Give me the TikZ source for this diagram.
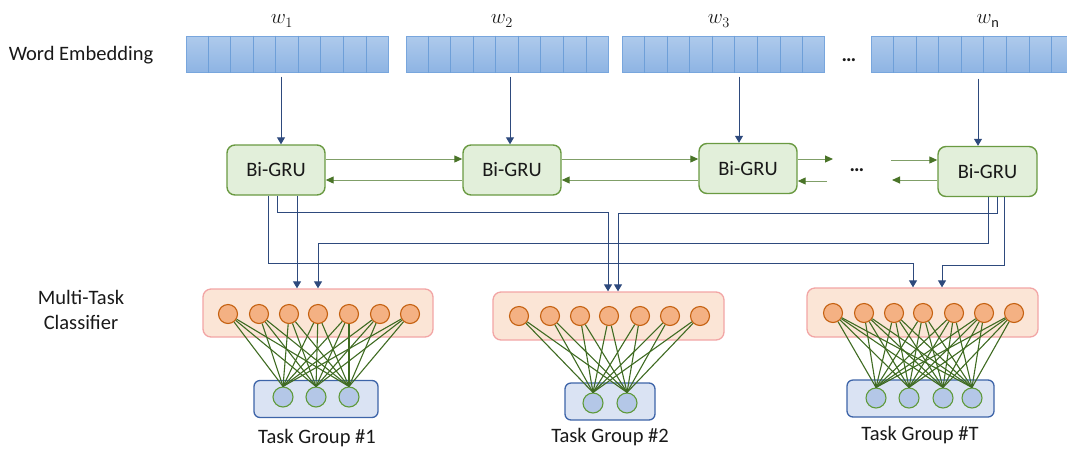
\documentclass[tikz,border=0pt]{standalone}
\usepackage{fontspec}
\setmainfont{Carlito}
\usetikzlibrary{arrows.meta,calc}
\definecolor{wordtop}{HTML}{AECAEC}
\definecolor{wordbot}{HTML}{8EB4E3}
\definecolor{wordborder}{HTML}{78A6DD}
\definecolor{cellline}{HTML}{6E9FD8}
\definecolor{gruf}{HTML}{E2EFDA}
\definecolor{grub}{HTML}{6A9A42}
\definecolor{pinkf}{HTML}{FBE5D6}
\definecolor{pinkb}{HTML}{F2A5A5}
\definecolor{orangef}{HTML}{F4B183}
\definecolor{orangeb}{HTML}{C5600F}
\definecolor{bluef}{HTML}{DAE3F3}
\definecolor{blueb}{HTML}{3D64A8}
\definecolor{bluec}{HTML}{B4C7E7}
\definecolor{greenb}{HTML}{5F9A3A}
\definecolor{linkc}{HTML}{3F6B22}
\definecolor{navy}{HTML}{2E4A7D}
\definecolor{garrl}{HTML}{809F68}
\definecolor{garrh}{HTML}{4A7428}
\newcommand\mylbl{\fontsize{20.5}{24.5}\selectfont}
\begin{document}
\begin{tikzpicture}[x=1pt,y=-1pt,
  wordbox/.style={rectangle, draw=wordborder, line width=1pt, top color=wordtop, bottom color=wordbot, minimum width=202pt, minimum height=36pt, inner sep=0pt},
  gru/.style={rectangle, rounded corners=8pt, draw=grub, fill=gruf, line width=1.4pt, minimum width=98pt, minimum height=50pt, font=\mylbl, text=black!90},
  clsbox/.style={rectangle, rounded corners=8pt, draw=pinkb, fill=pinkf, line width=1.3pt, minimum height=48pt, minimum width=231pt, inner sep=0pt},
  onode/.style={circle, draw=orangeb, fill=orangef, line width=1.1pt, minimum size=19pt, inner sep=0pt},
  taskbox/.style={rectangle, rounded corners=6pt, draw=blueb, fill=bluef, line width=1.3pt, minimum height=37pt, inner sep=0pt},
  tnode/.style={circle, draw=greenb, fill=bluec, line width=1.1pt, minimum size=20pt, inner sep=0pt},
  route/.style={draw=navy, line width=1pt, -{Triangle[width=8pt,length=7pt]}},
  garr/.style={draw=garrl, line width=1pt, -{Triangle[width=7pt,length=8pt,color=garrh,fill=garrh]}},
  link/.style={draw=linkc, line width=1.1pt},
  lbl/.style={font=\mylbl, text=black!90, inner sep=0pt}
]
\useasboundingbox (0,0) rectangle (1067,448);
\clip (0,0) rectangle (1067,448);

% left labels
\node[lbl] (lwe) at (81,55) {Word Embedding};
\node[lbl, align=center] (lmt) at (81,310) {Multi-Task\\Classifier};

% word embeddings
\node[wordbox] (w1) at (287,54) {};
\node[wordbox] (w2) at (507,54) {};
\node[wordbox] (w3) at (723.5,54) {};
\node[wordbox] (wn) at (972.5,54) {};
\foreach \w in {w1,w2,w3,wn}{
  \foreach \i in {1,...,8}{
    \draw[cellline, line width=0.8pt] ($(\w.north west)!\i/9!(\w.north east)$) -- ($(\w.south west)!\i/9!(\w.south east)$);
  }
}
\node[lbl] (lw1) at (282,21) {$w_1$};
\node[lbl] (lw2) at (502,21) {$w_2$};
\node[lbl] (lw3) at (719,21) {$w_3$};
\node[lbl] (lwn) at (988,21) {$w_{\mathrm{n}}$};
\node[lbl] (dotsw) at (849,60) {\textbf{…}};

% Bi-GRU
\node[gru] (g1) at (276,170) {Bi-GRU};
\node[gru] (g2) at (512,170) {Bi-GRU};
\node[gru] (g3) at (748,168.5) {Bi-GRU};
\node[gru, minimum width=99pt] (g4) at (987.5,171.5) {Bi-GRU};
\node[lbl] (dotsg) at (857,170) {\textbf{…}};

% word -> GRU
\draw[route] ([xshift=-6pt,yshift=-4pt]w1.south) -- ([xshift=5pt]g1.north);
\draw[route] ([xshift=3pt,yshift=-4pt]w2.south) -- ([xshift=-2pt]g2.north);
\draw[route] ([xshift=15.5pt,yshift=-4pt]w3.south) -- ([xshift=-9pt]g3.north);
\draw[route] ([xshift=5.5pt,yshift=-6pt]wn.south) -- ([xshift=-9.5pt]g4.north);

% recurrent arrows
\coordinate (o3t) at (833,159);
\coordinate (o3b) at (827,181);
\coordinate (i4t) at (891,160);
\coordinate (i4b) at (892,180);
\draw[garr] ([yshift=11pt]g1.east) -- ([yshift=11pt]g1.east -| g2.west);
\draw[garr] ([yshift=-10pt]g1.east -| g2.west) -- ([yshift=-10pt]g1.east);
\draw[garr] ([yshift=11pt]g2.east) -- ([yshift=11pt]g2.east -| g3.west);
\draw[garr] ([yshift=-10pt]g2.east -| g3.west) -- ([yshift=-10pt]g2.east);
\draw[garr] (o3t -| g3.east) -- (o3t);
\draw[garr] (o3b) -- (o3b -| g3.east);
\draw[garr] (i4t) -- (i4t -| g4.west);
\draw[garr] (i4b -| g4.west) -- (i4b);

% classifier boxes
\node[clsbox, minimum width=230pt] (c1) at (318,313) {};
\node[clsbox] (c2) at (608.5,316) {};
\node[clsbox, minimum height=49pt] (c3) at (922.5,312.5) {};
\node[taskbox, minimum width=124pt] (t1) at (316,399) {};
\node[taskbox, minimum width=90pt] (t2) at (610,401.5) {};
\node[taskbox, minimum width=147pt] (t3) at (920.5,398.5) {};

% neurons
\foreach \x [count=\i] in {228,259,289,318,349,380,410} \node[onode] (a\i) at (\x,314) {};
\foreach \x [count=\i] in {519,550,580,609,640,670,700} \node[onode] (b\i) at (\x,316) {};
\foreach \x [count=\i] in {833,864,894,923,954,984,1014} \node[onode] (d\i) at (\x,313) {};
\foreach \x [count=\i] in {283,316,349} \node[tnode] (p\i) at (\x,397) {};
\foreach \x [count=\i] in {593,627} \node[tnode] (q\i) at (\x,403) {};
\foreach \x [count=\i] in {876,909,943,972} \node[tnode] (r\i) at (\x,398) {};

\foreach \i in {1,...,7}{
  \foreach \j in {1,2,3} \draw[link] (a\i) -- (p\j.north);
  \foreach \j in {1,2} \draw[link] (b\i) -- (q\j.north);
  \foreach \j in {1,...,4} \draw[link] (d\i) -- (r\j.north);
}

% routing GRU -> classifiers
\draw[route] ([xshift=21pt]g1.south) -- ([xshift=-21pt]c1.north);
\draw[route] ([xshift=1pt]g1.south) -- ++(0,17) -| ([xshift=-0.5pt]c2.north);
\draw[route] ([xshift=-8pt]g1.south) -- ++(0,68) -| ([xshift=-9.5pt]c3.north);
\draw[route] ([xshift=9.5pt]g4.south) -- ++(0,16) -| ([xshift=9.5pt]c2.north);
\draw[route] ([xshift=0.5pt]g4.south) -- ++(0,46) -| (c1.north);
\draw[route] ([xshift=16.5pt]g4.south) -- ++(0,68) -| ([xshift=19.5pt]c3.north);

% task labels
\node[lbl] (tg1) at (317,438) {Task Group \#1};
\node[lbl] (tg2) at (610,437) {Task Group \#2};
\node[lbl] (tg3) at (920,435) {Task Group \#T};
\end{tikzpicture}
\end{document}
